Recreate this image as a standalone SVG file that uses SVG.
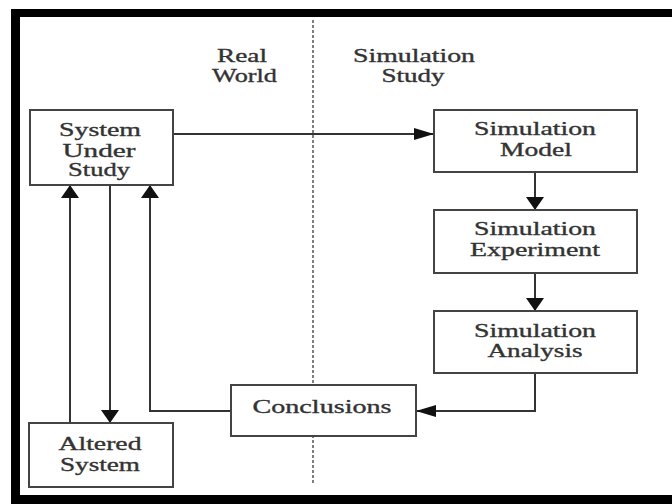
<svg xmlns="http://www.w3.org/2000/svg" width="672" height="504" viewBox="0 0 672 504">
<style>
.box{fill:#fff;stroke:#444;stroke-width:2}
.t{font-family:"Liberation Serif","Times New Roman",serif;font-size:19px;fill:#333;stroke:#333;stroke-width:0.35;text-anchor:middle}
.c{fill:none;stroke:#333;stroke-width:2}
</style>
<defs>
<marker id="aV" markerUnits="userSpaceOnUse" markerWidth="13" markerHeight="18" refX="13" refY="9" orient="auto"><path d="M0,0 L13,9 L0,18 z" fill="#111"/></marker>
<marker id="aH" markerUnits="userSpaceOnUse" markerWidth="20" markerHeight="12" refX="20" refY="6" orient="auto"><path d="M0,0 L20,6 L0,12 z" fill="#111"/></marker>
</defs>
<rect x="0" y="0" width="672" height="504" fill="#fff"/>
<rect x="11" y="9" width="661" height="495" fill="#000"/>
<rect x="20" y="17" width="652" height="478" fill="#fff"/>
<g id="divider">
<line x1="313" y1="20" x2="313" y2="483" stroke="#555" stroke-width="1.5" stroke-dasharray="3 2"/>
<text class="t" x="242" y="62" textLength="50" lengthAdjust="spacingAndGlyphs">Real</text>
<text class="t" x="244.5" y="82" textLength="65" lengthAdjust="spacingAndGlyphs">World</text>
<text class="t" x="414" y="62" textLength="122" lengthAdjust="spacingAndGlyphs">Simulation</text>
<text class="t" x="413" y="82" textLength="63" lengthAdjust="spacingAndGlyphs">Study</text>
</g>
<g id="connectors">
<path class="c" d="M173,134 H434" marker-end="url(#aH)"/>
<path class="c" d="M535,172 V210" marker-end="url(#aV)"/>
<path class="c" d="M535,273 V311" marker-end="url(#aV)"/>
<path class="c" d="M535,373 V411 H416" marker-end="url(#aH)"/>
<path class="c" d="M231,411 H150 V185" marker-end="url(#aV)"/>
<path class="c" d="M110,185 V423" marker-end="url(#aV)"/>
<path class="c" d="M70,423 V185" marker-end="url(#aV)"/>
</g>
<g id="system">
<rect class="box" x="30" y="110" width="143" height="75"/>
<text class="t" x="100" y="136" textLength="82" lengthAdjust="spacingAndGlyphs">System</text>
<text class="t" x="99" y="157" textLength="73" lengthAdjust="spacingAndGlyphs">Under</text>
<text class="t" x="99" y="176" textLength="62" lengthAdjust="spacingAndGlyphs">Study</text>
</g>
<g id="model">
<rect class="box" x="434" y="110" width="203" height="62"/>
<text class="t" x="535" y="135" textLength="122" lengthAdjust="spacingAndGlyphs">Simulation</text>
<text class="t" x="536" y="156" textLength="72" lengthAdjust="spacingAndGlyphs">Model</text>
</g>
<g id="experiment">
<rect class="box" x="434" y="210" width="203" height="63"/>
<text class="t" x="535" y="235" textLength="122" lengthAdjust="spacingAndGlyphs">Simulation</text>
<text class="t" x="535" y="256" textLength="130" lengthAdjust="spacingAndGlyphs">Experiment</text>
</g>
<g id="analysis">
<rect class="box" x="434" y="311" width="203" height="62"/>
<text class="t" x="535" y="337" textLength="122" lengthAdjust="spacingAndGlyphs">Simulation</text>
<text class="t" x="535" y="357" textLength="95" lengthAdjust="spacingAndGlyphs">Analysis</text>
</g>
<g id="conclusions">
<rect class="box" x="231" y="385" width="185" height="51"/>
<text class="t" x="322" y="413" textLength="139" lengthAdjust="spacingAndGlyphs">Conclusions</text>
</g>
<g id="altered">
<rect class="box" x="29" y="423" width="144" height="64"/>
<text class="t" x="100" y="450" textLength="83" lengthAdjust="spacingAndGlyphs">Altered</text>
<text class="t" x="100" y="471" textLength="80" lengthAdjust="spacingAndGlyphs">System</text>
</g>
</svg>
